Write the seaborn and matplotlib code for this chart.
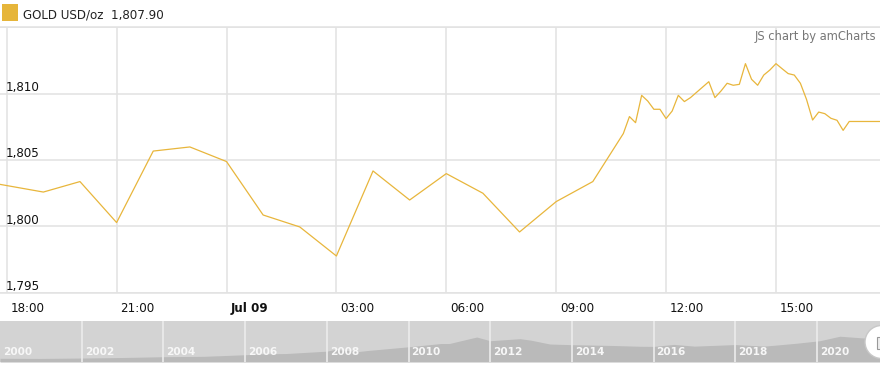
import numpy as np
import pandas as pd
import matplotlib
matplotlib.use("Agg")
import matplotlib.pyplot as plt
import matplotlib.transforms as mtrans
from matplotlib.patches import Rectangle, Ellipse
import seaborn as sns

# ---- main series (GOLD USD/oz) ----
times = [
    "2021-07-08 17:00", "2021-07-08 18:00", "2021-07-08 19:00", "2021-07-08 20:00",
    "2021-07-08 21:00", "2021-07-08 22:00", "2021-07-08 23:00", "2021-07-09 00:00",
    "2021-07-09 01:00", "2021-07-09 02:00", "2021-07-09 03:00", "2021-07-09 04:00",
    "2021-07-09 05:00", "2021-07-09 06:00", "2021-07-09 07:00", "2021-07-09 08:00",
    "2021-07-09 09:00", "2021-07-09 10:00", "2021-07-09 10:50", "2021-07-09 11:00",
    "2021-07-09 11:10", "2021-07-09 11:20", "2021-07-09 11:30", "2021-07-09 11:40",
    "2021-07-09 11:50", "2021-07-09 12:00", "2021-07-09 12:10", "2021-07-09 12:20",
    "2021-07-09 12:30", "2021-07-09 12:40", "2021-07-09 13:10", "2021-07-09 13:20",
    "2021-07-09 13:30", "2021-07-09 13:40", "2021-07-09 13:50", "2021-07-09 14:00",
    "2021-07-09 14:10", "2021-07-09 14:20", "2021-07-09 14:30", "2021-07-09 14:40",
    "2021-07-09 14:50", "2021-07-09 15:00", "2021-07-09 15:10", "2021-07-09 15:20",
    "2021-07-09 15:30", "2021-07-09 15:40", "2021-07-09 15:50", "2021-07-09 16:00",
    "2021-07-09 16:10", "2021-07-09 16:20", "2021-07-09 16:30", "2021-07-09 16:40",
    "2021-07-09 16:50", "2021-07-09 17:00", "2021-07-09 17:10", "2021-07-09 17:20",
    "2021-07-09 17:30", "2021-07-09 17:40", "2021-07-09 17:50",
]
prices = [
    1803.56, 1803.07, 1802.58, 1803.37,
    1800.28, 1805.67, 1805.98, 1804.88,
    1800.85, 1799.95, 1797.76, 1804.17,
    1801.98, 1803.97, 1802.49, 1799.57,
    1801.86, 1803.37, 1806.99, 1808.27,
    1807.81, 1809.87, 1809.44, 1808.82,
    1808.82, 1808.12, 1808.69, 1809.87,
    1809.40, 1809.70, 1810.90, 1809.70,
    1810.20, 1810.78, 1810.63, 1810.70,
    1812.26, 1811.08, 1810.63, 1811.40,
    1811.78, 1812.26, 1811.88, 1811.51,
    1811.40, 1810.78, 1809.57, 1808.01,
    1808.61, 1808.49, 1808.14, 1807.99,
    1807.23, 1807.90, 1807.90, 1807.90,
    1807.90, 1807.90, 1807.90,
]

x_ticks = ["2021-07-08 18:00", "2021-07-08 21:00", "2021-07-09 00:00", "2021-07-09 03:00",
           "2021-07-09 06:00", "2021-07-09 09:00", "2021-07-09 12:00", "2021-07-09 15:00"]
x_tick_labels = ["18:00", "21:00", "Jul 09", "03:00", "06:00", "09:00", "12:00", "15:00"]
y_ticks = [1795, 1800, 1805, 1810, 1815]
y_tick_labels = ["1,795", "1,800", "1,805", "1,810", ""]

legend_label = "GOLD USD/oz  1,807.90"
credit = "JS chart by amCharts"

# ---- scrollbar overview series ----
scroll_years = [2000.0, 2001.0, 2002.0, 2003.0, 2004.0, 2005.0, 2006.0, 2006.4, 2007.0,
                2008.0, 2008.2, 2008.8, 2009.0, 2010.0, 2010.8, 2011.0, 2011.67, 2012.0,
                2012.73, 2013.0, 2013.46, 2014.0, 2015.0, 2015.67, 2016.0, 2016.5, 2017.0,
                2018.0, 2018.7, 2019.0, 2019.5, 2020.07, 2020.56, 2021.13, 2021.54]
scroll_values = [280, 270, 300, 340, 400, 430, 550, 620, 640,
                 820, 950, 800, 870, 1150, 1400, 1400, 1890, 1610,
                 1765, 1650, 1360, 1310, 1250, 1190, 1180, 1330, 1200,
                 1320, 1200, 1280, 1420, 1610, 1950, 1820, 1800]
scroll_labels = ["2000", "2002", "2004", "2006", "2008", "2010",
                 "2012", "2014", "2016", "2018", "2020"]
scroll_label_years = [2000, 2002, 2004, 2006, 2008, 2010, 2012, 2014, 2016, 2018, 2020]

GOLD = "#E8B63C"
GRID = "#e2e2e2"
W, H = 880, 369

sns.set_theme(style="white")
plt.rcParams["font.family"] = ["DejaVu Sans"]

fig = plt.figure(figsize=(W / 100, H / 100), dpi=100)
fig.patch.set_facecolor("white")

# main plot axes: top at y=27.3px, bottom at y=292.6px
ax = fig.add_axes([0, 1 - 292.6 / H, 1.0, (292.6 - 27.3) / H])
df = pd.DataFrame({"time": pd.to_datetime(times), "price": prices})
sns.lineplot(data=df, x="time", y="price", ax=ax, color=GOLD, linewidth=0.9)
ax.set_xlim(pd.Timestamp("2021-07-08 17:49"), pd.Timestamp("2021-07-09 17:50:24"))
ax.set_ylim(1795, 1815)
ax.set_xlabel("")
ax.set_ylabel("")

ax.set_xticks(pd.to_datetime(x_ticks))
ax.set_xticklabels(x_tick_labels, ha="left", fontsize=8.6, color="#111")
ax.set_yticks(y_ticks)
ax.set_yticklabels(y_tick_labels, ha="left", va="baseline", fontsize=8.6, color="#111")
ax.tick_params(axis="x", length=0, pad=6.8)
ax.tick_params(axis="y", length=0, pad=0)
for lab in ax.get_xticklabels():
    if lab.get_text() == "Jul 09":
        lab.set_fontweight("bold")
    lab.set_transform(lab.get_transform() + mtrans.ScaledTranslation(0.04, 0, fig.dpi_scale_trans))
for lab in ax.get_yticklabels():
    lab.set_transform(lab.get_transform() + mtrans.ScaledTranslation(0.06, 0.025, fig.dpi_scale_trans))

ax.grid(True, color=GRID, linewidth=1.1)
ax.set_axisbelow(True)
for side in ["left", "right"]:
    ax.spines[side].set_visible(False)
for side in ["top", "bottom"]:
    ax.spines[side].set_color(GRID)
    ax.spines[side].set_linewidth(1.1)

# header legend
fig.add_artist(Rectangle((1.5 / W, 1 - 20.7 / H), 16 / W, 16.5 / H,
                         transform=fig.transFigure, facecolor="#E6B53A", edgecolor="none"))
fig.text(22.5 / W, 1 - 15 / H, legend_label, ha="left", va="center", fontsize=8.6, color="#222")
fig.text(876 / W, 1 - 36.5 / H, credit, ha="right", va="center", fontsize=8.3, color="#777")

# scrollbar
sax = fig.add_axes([0, 1 - 362 / H, 1.0, 40.7 / H])
sax.set_facecolor("#d3d3d3")
sax.fill_between(scroll_years, scroll_values, 0, color="#bababa", linewidth=0)
sax.set_xlim(2000, 2000 + W / 40.85)
sax.set_ylim(0, 3080)
sax.set_xticks([])
sax.set_yticks([])
for s in sax.spines.values():
    s.set_visible(False)
sax.vlines(scroll_label_years[1:], 0, 1, transform=sax.get_xaxis_transform(),
           color="#ececec", linewidth=1.2)
off = mtrans.ScaledTranslation(0.03, 0, fig.dpi_scale_trans)
for yr, lab in zip(scroll_label_years, scroll_labels):
    sax.text(yr, 0.24, lab, transform=sax.get_xaxis_transform() + off,
             ha="left", va="center", fontsize=7.6, fontweight="bold", color="#f7f7f7")

# scrollbar grip
fig.add_artist(Ellipse((881.5 / W, 1 - 342 / H), 33 / W, 33 / H, transform=fig.transFigure,
                       facecolor="white", edgecolor="#c8c8c8", linewidth=1.0))
fig.add_artist(Rectangle((876.5 / W, 1 - 348.5 / H), 6 / W, 12 / H, transform=fig.transFigure,
                         facecolor="#eeeeee", edgecolor="#999999", linewidth=0.8))

fig.savefig("out.png", dpi=100)
